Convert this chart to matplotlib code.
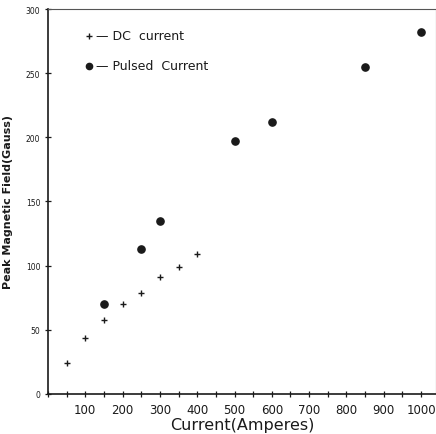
import matplotlib
matplotlib.use("Agg")
import matplotlib.pyplot as plt
from matplotlib.ticker import MultipleLocator

# DC current measurements
dc_current = [50, 100, 150, 200, 250, 300, 350, 400]
dc_field = [24, 44, 58, 70, 79, 91, 99, 109]

# Pulsed current measurements
pulsed_current = [150, 250, 300, 500, 600, 850, 1000]
pulsed_field = [70, 113, 135, 197, 212, 255, 282]

x_ticks = [100, 200, 300, 400, 500, 600, 700, 800, 900, 1000]
y_ticks = [0, 50, 100, 150, 200, 250, 300]

INK = "#1a1a1a"

fig = plt.figure(figsize=(4.36, 4.35), dpi=100)
ax = fig.add_axes([0.110, 0.092, 0.890, 0.885])

ax.plot(dc_current, dc_field, linestyle="none", marker="+", markersize=4,
        markeredgewidth=1.0, color=INK)
ax.plot(pulsed_current, pulsed_field, linestyle="none", marker="o", markersize=5.2,
        color=INK)

ax.set_xlim(0, 1040)
ax.set_ylim(0, 300)
ax.set_xticks(x_ticks)
ax.set_yticks(y_ticks)
ax.xaxis.set_minor_locator(MultipleLocator(50))

ax.tick_params(axis="both", which="both", direction="inout", length=5, width=0.9,
               color=INK)
ax.tick_params(axis="x", labelsize=8.5, pad=4, labelcolor=INK)
ax.tick_params(axis="y", labelsize=5.5, pad=3, labelcolor=INK)

for side in ("top", "right"):
    ax.spines[side].set_linewidth(0.8)
    ax.spines[side].set_color("#555555")
for side in ("left", "bottom"):
    ax.spines[side].set_linewidth(1.2)
    ax.spines[side].set_color(INK)

ax.set_xlabel("Current(Amperes)", fontsize=11.5, color=INK, labelpad=1)
ax.set_ylabel("Peak Magnetic Field(Gauss)", fontsize=8, fontweight="bold",
              color=INK, labelpad=9)

# hand-drawn style key in the upper left
ax.plot([0.105], [0.93], transform=ax.transAxes, linestyle="none", marker="+",
        markersize=4, markeredgewidth=1.0, color=INK)
ax.text(0.123, 0.93, "\u2014 DC  current", transform=ax.transAxes, fontsize=9,
        va="center", ha="left", color=INK)
ax.plot([0.105], [0.852], transform=ax.transAxes, linestyle="none", marker="o",
        markersize=4.5, color=INK)
ax.text(0.123, 0.852, "\u2014 Pulsed  Current", transform=ax.transAxes, fontsize=9,
        va="center", ha="left", color=INK)

fig.savefig("out.png", dpi=100, facecolor="white")
